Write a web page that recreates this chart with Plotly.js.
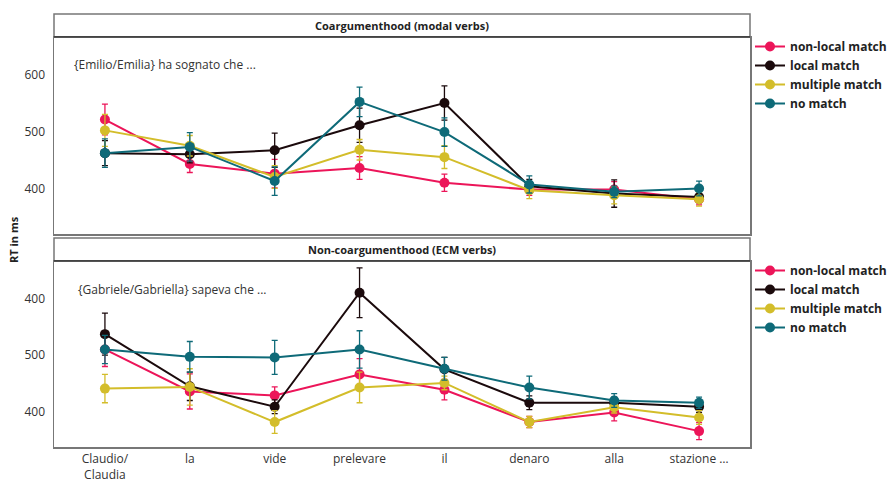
<!DOCTYPE html>
<html>
<head>
<meta charset="utf-8">
<script src="https://cdn.plot.ly/plotly-3.0.1.min.js"></script>
<style>html,body{margin:0;padding:0;background:#fff;}#chart{width:889px;height:481px;}</style>
</head>
<body>
<div id="chart"></div>
<script>
const words = ["Claudio/<br>Claudia", "la", "vide", "prelevare", "il", "denaro", "alla", "stazione …"];
const seriesNames = ["non-local match", "local match", "multiple match", "no match"];
const seriesColors = ["#EC1559", "#1B0A0C", "#D3BD2A", "#0E6A78"];

// Panel 1: Coargumenthood (modal verbs)
const coNonLocal = [522, 444, 427, 437, 411, 399, 399, 382];
const coNonLocalErr = [27, 15, 25, 20, 15, 10, 14, 10];
const coLocal = [463, 461, 468, 512, 551, 405, 392, 386];
const coLocalErr = [22, 15, 30, 30, 30, 12, 24, 10];
const coMultiple = [503, 476, 421, 469, 456, 398, 389, 382];
const coMultipleErr = [28, 18, 20, 18, 20, 15, 15, 12];
const coNoMatch = [463, 474, 414, 553, 500, 408, 395, 401];
const coNoMatchErr = [25, 25, 25, 26, 25, 15, 10, 13];

// Panel 2: Non-coargumenthood (ECM verbs)
const ncNonLocal = [510, 436, 429, 466, 439, 382, 399, 366];
const ncNonLocalErr = [30, 31, 15, 28, 18, 10, 15, 15];
const ncLocal = [537, 445, 409, 610, 475, 416, 416, 409];
const ncLocalErr = [37, 25, 12, 44, 21, 12, 10, 10];
const ncMultiple = [441, 444, 382, 443, 451, 382, 408, 390];
const ncMultipleErr = [25, 32, 20, 27, 12, 10, 10, 12];
const ncNoMatch = [510, 497, 496, 510, 476, 443, 420, 416];
const ncNoMatchErr = [25, 27, 30, 33, 20, 20, 12, 10];

const yTickVals = [400, 500, 600];
const topTickText = ["400", "500", "600"];
const bottomTickText = ["400", "500", "400"];

const topTitle = "Coargumenthood (modal verbs)";
const bottomTitle = "Non-coargumenthood (ECM verbs)";
const topNote = "{Emilio/Emilia} ha sognato che ...";
const bottomNote = "{Gabriele/Gabriella} sapeva che ...";
const yTitle = "RT in ms";

const xIdx = words.map((w, i) => i);
const topData = [[coNonLocal, coNonLocalErr], [coLocal, coLocalErr], [coMultiple, coMultipleErr], [coNoMatch, coNoMatchErr]];
const botData = [[ncNonLocal, ncNonLocalErr], [ncLocal, ncLocalErr], [ncMultiple, ncMultipleErr], [ncNoMatch, ncNoMatchErr]];

function mk(d, i, xa, ya, leg) {
  return {
    type: "scatter", mode: "lines+markers",
    x: xIdx, y: d[0], xaxis: xa, yaxis: ya, name: seriesNames[i], legend: leg,
    line: {color: seriesColors[i], width: 2},
    marker: {color: seriesColors[i], size: 10},
    error_y: {type: "data", array: d[1], visible: true, color: seriesColors[i], thickness: 1.3, width: 3}
  };
}
const traces = [];
topData.forEach((d, i) => traces.push(mk(d, i, "x", "y", "legend")));
botData.forEach((d, i) => traces.push(mk(d, i, "x2", "y2", "legend2")));

const W = 889, H = 481;
const px = v => v / W, py = v => 1 - v / H;
const font = "Open Sans, Noto Sans, sans-serif";
const axBase = {showgrid: false, zeroline: false, showline: true, mirror: true, linecolor: "#777", linewidth: 1.5, ticks: "", tickfont: {size: 12, color: "#333", family: font}};
const legFont = {size: 12, color: "#222", family: font, weight: "bold"};

const layout = {
  width: W, height: H, margin: {l: 0, r: 0, t: 0, b: 0, autoexpand: false},
  paper_bgcolor: "#fff", plot_bgcolor: "#fff", font: {family: font},
  showlegend: true,
  xaxis: Object.assign({}, axBase, {domain: [px(54), px(750)], range: [-0.6, 7.6], tickvals: xIdx, ticktext: words, showticklabels: false, anchor: "y"}),
  yaxis: Object.assign({}, axBase, {domain: [py(234), py(37)], range: [321, 667], tickvals: yTickVals, ticktext: topTickText, anchor: "x", ticklabelstandoff: 5}),
  xaxis2: Object.assign({}, axBase, {domain: [px(54), px(750)], range: [-0.6, 7.6], tickvals: xIdx, ticktext: words, anchor: "y2", ticklabelstandoff: 0}),
  yaxis2: Object.assign({}, axBase, {domain: [py(447), py(261)], range: [338, 666], tickvals: yTickVals, ticktext: bottomTickText, anchor: "x2", ticklabelstandoff: 5}),
  legend: {x: px(750), y: py(32), xanchor: "left", yanchor: "top", bgcolor: "rgba(0,0,0,0)", font: legFont, tracegroupgap: 0, itemwidth: 30},
  legend2: {x: px(750), y: py(256), xanchor: "left", yanchor: "top", bgcolor: "rgba(0,0,0,0)", font: legFont, tracegroupgap: 0, itemwidth: 30},
  shapes: [
    {type: "rect", xref: "paper", yref: "paper", x0: px(54), x1: px(750), y0: py(37), y1: py(14), line: {color: "#777", width: 1.5}},
    {type: "line", xref: "paper", yref: "paper", x0: px(54), x1: px(750), y0: py(37), y1: py(37), line: {color: "#111", width: 1.2}},
    {type: "rect", xref: "paper", yref: "paper", x0: px(54), x1: px(750), y0: py(261), y1: py(238), line: {color: "#777", width: 1.5}},
    {type: "line", xref: "paper", yref: "paper", x0: px(54), x1: px(750), y0: py(261), y1: py(261), line: {color: "#111", width: 1.2}}
  ],
  annotations: [
    {xref: "paper", yref: "paper", x: px(402), y: py(25.5), text: topTitle, showarrow: false, xanchor: "center", yanchor: "middle", font: {size: 11, color: "#222", family: font, weight: "bold"}},
    {xref: "paper", yref: "paper", x: px(402), y: py(249.5), text: bottomTitle, showarrow: false, xanchor: "center", yanchor: "middle", font: {size: 11, color: "#222", family: font, weight: "bold"}},
    {xref: "paper", yref: "paper", x: px(72), y: py(64), text: topNote, showarrow: false, xanchor: "left", yanchor: "middle", font: {size: 12, color: "#333", family: font}},
    {xref: "paper", yref: "paper", x: px(76), y: py(289), text: bottomNote, showarrow: false, xanchor: "left", yanchor: "middle", font: {size: 12, color: "#333", family: font}},
    {xref: "paper", yref: "paper", x: px(13), y: py(240), text: yTitle, showarrow: false, textangle: -90, xanchor: "center", yanchor: "middle", font: {size: 11, color: "#222", family: font, weight: "bold"}}
  ]
};
Plotly.newPlot("chart", traces, layout, {displayModeBar: false, staticPlot: true});
</script>
</body>
</html>
